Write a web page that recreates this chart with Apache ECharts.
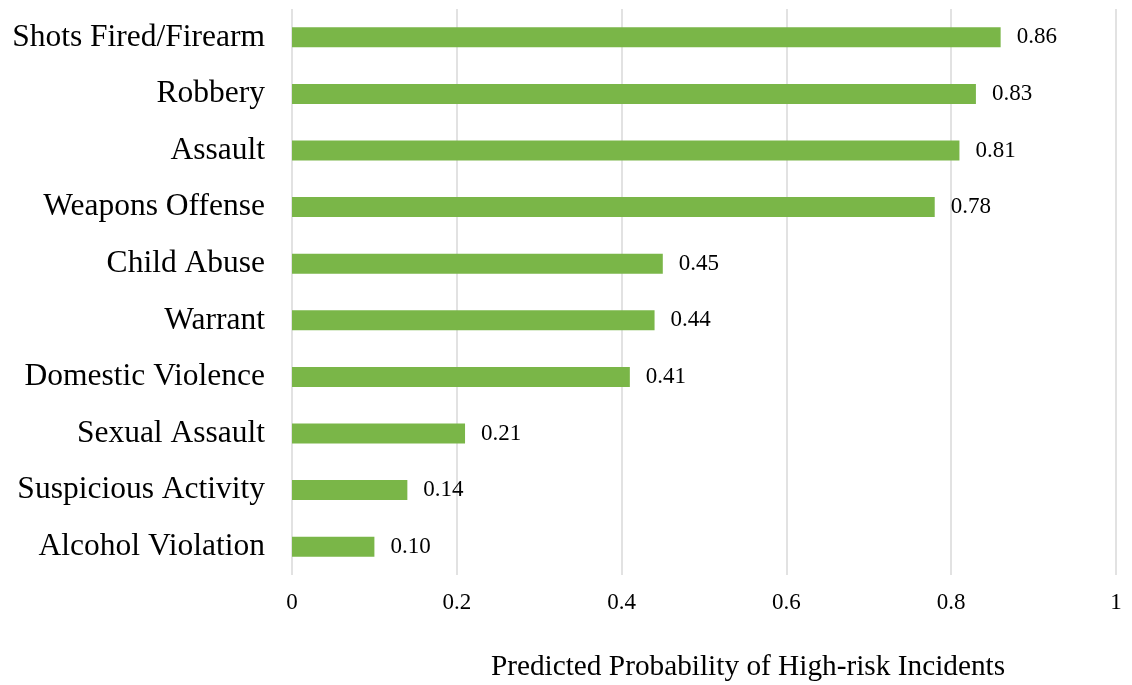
<!DOCTYPE html>
<html>
<head>
<meta charset="utf-8">
<script src="https://cdn.jsdelivr.net/npm/echarts@6/dist/echarts.min.js"></script>
<style>
  html, body { margin: 0; padding: 0; background: #ffffff; }
  #chart { width: 1132px; height: 685px; }
</style>
</head>
<body>
<div id="chart"></div>
<script>
// Incident types, listed bottom to top as drawn on the category axis
const categories = [
  'Alcohol Violation',
  'Suspicious Activity',
  'Sexual Assault',
  'Domestic Violence',
  'Warrant',
  'Child Abuse',
  'Weapons Offense',
  'Assault',
  'Robbery',
  'Shots Fired/Firearm'
];

// Predicted probability for each incident type
const probabilities = [0.10, 0.14, 0.21, 0.41, 0.44, 0.45, 0.78, 0.81, 0.83, 0.86];

// Value axis range and step
const axisMin = 0;
const axisMax = 1;
const axisStep = 0.2;

const axisTitle = 'Predicted Probability of High-risk Incidents';

const FONT = '"Liberation Serif", "DejaVu Serif", serif';

const chart = echarts.init(document.getElementById('chart'), null, { renderer: 'canvas' });

chart.setOption({
  animation: false,
  backgroundColor: '#ffffff',
  grid: {
    left: 292,
    right: 16,
    top: 9,
    bottom: 110,
    containLabel: false,
    outerBoundsMode: 'none'
  },
  xAxis: {
    type: 'value',
    min: axisMin,
    max: axisMax,
    interval: axisStep,
    name: axisTitle,
    nameLocation: 'middle',
    nameGap: 78,
    nameTextStyle: {
      fontFamily: FONT,
      fontSize: 29.3,
      color: '#000000',
      padding: [0, 0, 0, 88]
    },
    axisLine: { show: false },
    axisTick: { show: false },
    axisLabel: {
      margin: 16,
      fontFamily: FONT,
      fontSize: 23,
      color: '#000000',
      formatter: function (v) { return String(Math.round(v * 10) / 10); }
    },
    splitLine: {
      show: true,
      lineStyle: { color: '#d9d9d9', width: 1.5 }
    }
  },
  yAxis: {
    type: 'category',
    data: categories,
    axisLine: { show: false },
    axisTick: { show: false },
    axisLabel: {
      margin: 27,
      fontFamily: FONT,
      fontSize: 31.5,
      color: '#000000',
      padding: [4, 0, 0, 0]
    }
  },
  series: [{
    type: 'bar',
    data: probabilities,
    barWidth: 20,
    itemStyle: { color: '#7ab648' },
    label: {
      show: true,
      position: 'right',
      distance: 16,
      fontFamily: FONT,
      fontSize: 23,
      color: '#000000',
      padding: [4, 0, 0, 0],
      formatter: function (p) { return p.value.toFixed(2); }
    }
  }]
});
</script>
</body>
</html>
